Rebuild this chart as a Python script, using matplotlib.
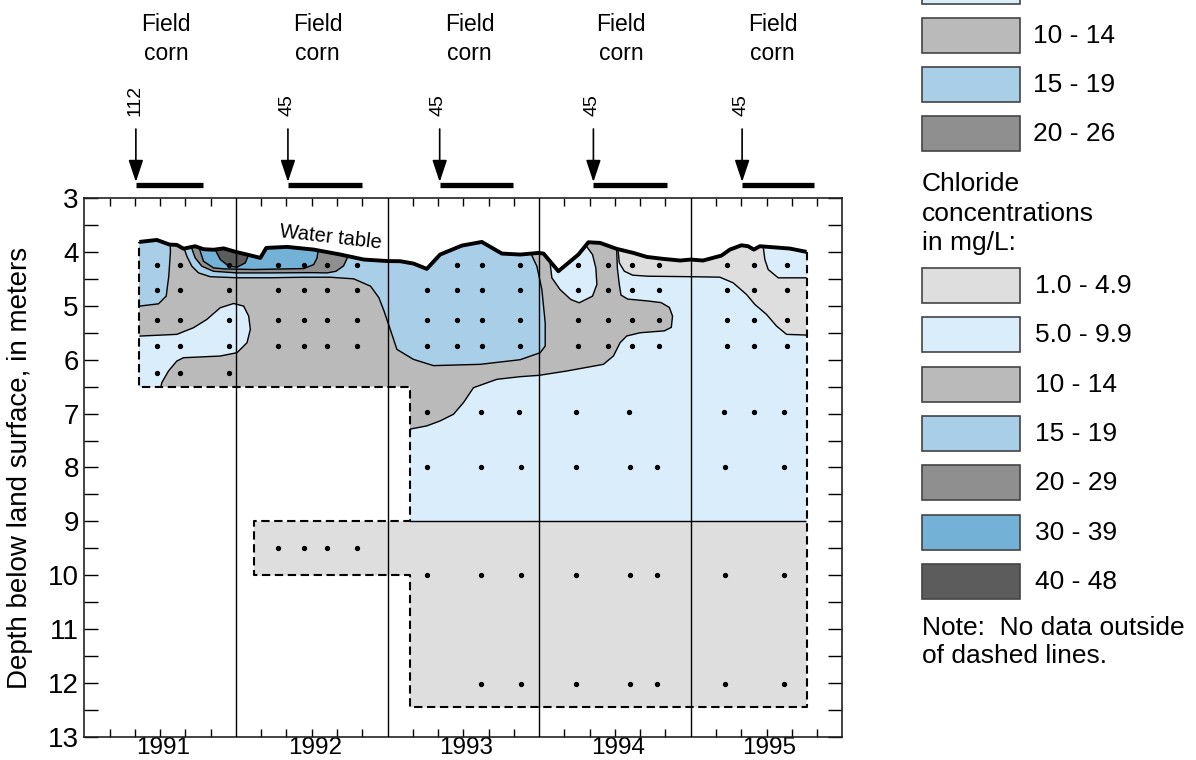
import matplotlib
matplotlib.use('Agg')
import matplotlib.pyplot as plt
import matplotlib.transforms as mtransforms
from matplotlib.patches import Polygon, Rectangle, ArrowStyle

# ---------------- data (x = fractional year, y = depth in m) ----------------
years = [1991, 1992, 1993, 1994, 1995]
crop_labels = ['Field', 'corn']
applications = [112, 45, 45, 45, 45]
appl_start = [1991.34, 1992.343, 1993.344, 1994.358, 1995.339]
appl_end = [1991.78, 1992.832, 1993.829, 1994.844, 1995.812]

water_table = [
    (1991.363, 3.815), (1991.478, 3.778), (1991.562, 3.864), (1991.610, 3.870),
    (1991.654, 3.940), (1991.731, 3.895), (1991.786, 3.950), (1991.852, 3.960),
    (1991.919, 3.935), (1992.007, 4.006), (1992.073, 4.049), (1992.161, 4.111),
    (1992.200, 3.926), (1992.337, 3.907), (1992.513, 3.957), (1992.689, 4.049),
    (1992.844, 4.142), (1993.000, 4.170), (1993.084, 4.173), (1993.171, 4.216),
    (1993.259, 4.315), (1993.347, 4.049), (1993.490, 3.883), (1993.622, 3.815),
    (1993.754, 4.031), (1993.875, 4.049), (1993.996, 4.019), (1994.029, 4.031),
    (1994.127, 4.358), (1994.259, 4.049), (1994.325, 3.821), (1994.402, 3.833),
    (1994.512, 3.944), (1994.622, 4.019), (1994.710, 4.093), (1994.820, 4.130),
    (1994.930, 4.160), (1995.000, 4.142), (1995.081, 4.160), (1995.203, 4.068),
    (1995.258, 3.957), (1995.335, 3.877), (1995.379, 3.895), (1995.416, 3.957),
    (1995.456, 3.895), (1995.544, 3.914), (1995.654, 3.938), (1995.764, 4.000)]

# lower / side limits of sampled area (dashed)
data_limit = [(1995.764, 12.45), (1993.148, 12.45), (1993.148, 10.0),
              (1992.12, 10.0), (1992.12, 9.0), (1993.148, 9.0),
              (1993.148, 6.5), (1991.363, 6.5)]

# concentration zones (mg/L); parts outside the sampled area are clipped
zone_1_deep = [(1993.148, 9.0), (1995.9, 9.0), (1995.9, 13.5), (1991.5, 13.5),
               (1991.5, 8.0), (1993.0, 8.0)]
zone_10 = [(1991.2, 3.5), (1994.512, 3.5), (1994.510, 3.85), (1994.516, 4.30),
           (1994.529, 4.605), (1994.540, 4.80), (1994.584, 4.875), (1994.716, 4.91),
           (1994.804, 4.94), (1994.859, 5.03), (1994.880, 5.19), (1994.872, 5.40),
           (1994.826, 5.465), (1994.666, 5.50), (1994.578, 5.56), (1994.534, 5.685),
           (1994.490, 5.932), (1994.424, 6.086), (1994.182, 6.21), (1994.0, 6.29),
           (1993.875, 6.315), (1993.721, 6.364), (1993.567, 6.519), (1993.501, 6.796),
           (1993.435, 7.012), (1993.347, 7.136), (1993.259, 7.228), (1993.145, 7.29),
           (1993.05, 7.32), (1993.0, 7.0), (1991.2, 7.0)]
zone_15_left = [(1991.566, 3.5), (1991.566, 3.80), (1991.568, 4.0), (1991.557, 4.451),
                (1991.54, 4.821), (1991.489, 4.963), (1991.363, 5.006), (1991.25, 5.01),
                (1991.25, 3.5)]
zone_15 = [(1991.65, 3.5), (1991.652, 3.88), (1991.676, 4.080), (1991.709, 4.265),
           (1991.753, 4.389), (1991.830, 4.46), (1992.007, 4.48), (1992.227, 4.48),
           (1992.447, 4.47), (1992.623, 4.47), (1992.777, 4.50), (1992.888, 4.636),
           (1992.943, 4.85), (1992.976, 5.09), (1993.018, 5.438), (1993.062, 5.809),
           (1993.171, 5.994), (1993.303, 6.11), (1993.611, 6.086), (1993.875, 6.0),
           (1994.007, 5.870), (1994.040, 5.747), (1994.040, 5.315), (1994.018, 4.698),
           (1993.985, 4.265), (1993.952, 4.068), (1993.945, 3.9), (1993.945, 3.5)]
zone_20 = [(1991.70, 3.5), (1991.698, 3.85), (1991.731, 4.111), (1991.775, 4.265),
           (1991.852, 4.36), (1992.007, 4.39), (1992.227, 4.39), (1992.491, 4.385),
           (1992.60, 4.39), (1992.66, 4.36), (1992.71, 4.26), (1992.735, 4.11),
           (1992.745, 3.95), (1992.745, 3.5)]
zone_30 = [(1991.75, 3.5), (1991.752, 3.88), (1991.786, 4.173), (1991.852, 4.296),
           (1991.919, 4.315), (1992.117, 4.327), (1992.447, 4.309), (1992.513, 4.235),
           (1992.535, 4.111), (1992.546, 3.9), (1992.548, 3.5)]
zone_40 = [(1991.85, 3.5), (1991.852, 3.9), (1991.897, 4.142), (1991.952, 4.265),
           (1992.007, 4.284), (1992.062, 4.204), (1992.084, 4.049), (1992.09, 3.9),
           (1992.09, 3.5)]
zone_5_1991 = [(1991.25, 5.565), (1991.363, 5.562), (1991.61, 5.53), (1991.72, 5.407),
               (1991.808, 5.253), (1991.896, 5.037), (1991.985, 4.957), (1992.051, 5.006),
               (1992.084, 5.19), (1992.095, 5.438), (1992.073, 5.685), (1992.007, 5.87),
               (1991.896, 5.932), (1991.654, 5.963), (1991.61, 6.025), (1991.555, 6.21),
               (1991.511, 6.426), (1991.49, 6.7), (1991.25, 6.7)]
zone_5_1994 = [(1994.06, 3.6), (1994.068, 4.10), (1994.084, 4.481), (1994.138, 4.698),
               (1994.209, 4.883), (1994.264, 4.944), (1994.352, 4.821), (1994.381, 4.605),
               (1994.374, 4.296), (1994.352, 4.049), (1994.308, 3.88), (1994.30, 3.6)]
zone_1_top = [(1994.515, 3.6), (1994.518, 3.90), (1994.529, 4.204), (1994.562, 4.358),
              (1994.617, 4.432), (1994.716, 4.451), (1995.0, 4.46), (1995.192, 4.469),
              (1995.280, 4.574), (1995.368, 4.79), (1995.423, 4.975), (1995.5, 5.16),
              (1995.566, 5.376), (1995.632, 5.53), (1995.764, 5.543), (1995.9, 5.543),
              (1995.9, 3.6)]
zone_5_1995 = [(1995.478, 3.6), (1995.478, 3.90), (1995.489, 4.142), (1995.511, 4.327),
               (1995.577, 4.481), (1995.764, 4.481), (1995.9, 4.481), (1995.9, 3.6)]

# sampling points
shallow_rows = [4.24, 4.71, 5.265, 5.74]
cols_1991 = [1991.48, 1991.63, 1991.955]
cols_1992 = [1992.278, 1992.452, 1992.601, 1992.80]
cols_1993 = [1993.263, 1993.455, 1993.625, 1993.875]
cols_1994 = [1994.259, 1994.453, 1994.615, 1994.793]
cols_1995 = [1995.24, 1995.416, 1995.632]
row_1991_deep = 6.25
row_1992_deep = 9.5
cols_7m = [1993.259, 1993.618, 1993.868, 1994.244, 1994.596, 1995.222, 1995.416, 1995.617]
cols_8_10m = [1993.26, 1993.615, 1993.88, 1994.245, 1994.599, 1994.78, 1995.226, 1995.617]
cols_12m = [1993.615, 1993.88, 1994.245, 1994.599, 1994.78, 1995.226, 1995.617]

# legend
c1, c5, c10, c15 = '#DEDEDE', '#DAEDFB', '#BABABA', '#A9CFE8'
c20, c30, c40 = '#8F8F8F', '#73B1D6', '#5C5C5C'
legend_top_labels = ['5.0 - 9.9', '10 - 14', '15 - 19', '20 - 26']
legend_top_colors = [c5, c10, c15, c20]
chloride_labels = ['1.0 - 4.9', '5.0 - 9.9', '10 - 14', '15 - 19', '20 - 29', '30 - 39', '40 - 48']
chloride_colors = [c1, c5, c10, c15, c20, c30, c40]

plt.rcParams['font.family'] = ['Liberation Sans', 'DejaVu Sans']

W, H = 1196, 760
fig = plt.figure(figsize=(W / 100, H / 100), dpi=100)
ax = fig.add_axes([84.33 / W, 23 / H, 758 / W, 539 / H])
ax.set_xlim(1991, 1996)
ax.set_ylim(13, 3)

region = Polygon(water_table + data_limit, closed=True, facecolor=c5,
                 edgecolor='none', zorder=1)
ax.add_patch(region)

zones = [(zone_1_deep, c1), (zone_10, c10), (zone_15_left, c15), (zone_15, c15),
         (zone_20, c20), (zone_30, c30), (zone_40, c40), (zone_5_1991, c5),
         (zone_5_1994, c5), (zone_1_top, c1), (zone_5_1995, c5)]
for pts, col in zones:
    p = Polygon(pts, closed=True, facecolor=col, edgecolor='black', lw=1.0, zorder=2)
    ax.add_patch(p)
    p.set_clip_path(region)

for y in years[1:]:
    ax.axvline(y, color='black', lw=1.0, zorder=3)

wx, wy = zip(*water_table)
ax.plot(wx, wy, color='black', lw=2.8, zorder=5, solid_capstyle='butt')
ox, oy = zip(*([water_table[-1]] + data_limit + [water_table[0]]))
ax.plot(ox, oy, color='black', lw=1.5, ls=(0, (4, 2.2)), zorder=5)

dots = []
for cols in [cols_1991, cols_1992, cols_1993, cols_1994, cols_1995]:
    for d in shallow_rows:
        for x in cols:
            if not (d == shallow_rows[0] and x == cols_1993[0]):
                dots.append((x, d))
dots += [(x, row_1991_deep) for x in cols_1991]
dots += [(x, row_1992_deep) for x in cols_1992]
dots += [(x, 6.97) for x in cols_7m]
dots += [(x, 8.0) for x in cols_8_10m] + [(x, 10.0) for x in cols_8_10m]
dots += [(x, 12.02) for x in cols_12m]
dx, dy = zip(*dots)
ax.plot(dx, dy, 'o', color='black', ms=2.8, zorder=6, ls='none')

ax.text(1992.623, 3.73, 'Water table', rotation=-6.5, ha='center', va='center',
        fontsize=14.5, zorder=7)

# axes styling
xt = [1991 + k / 6 for k in range(1, 30) if k % 6 != 0]
xl = [str(1991 + k // 6) if k % 6 == 3 else '' for k in range(1, 30) if k % 6 != 0]
ax.set_xticks(xt)
ax.set_xticklabels(xl)
ax.set_yticks(range(3, 14))
ax.set_yticks([d + 0.5 for d in range(3, 13)], minor=True)
ax.tick_params(axis='x', direction='in', length=6, width=1, top=True, labelsize=17.5, pad=0)
ax.tick_params(axis='y', which='both', direction='in', length=10, width=1,
               right=True, labelsize=20, pad=4)
shift = mtransforms.ScaledTranslation(3 / 100, 0, fig.dpi_scale_trans)
for lab in ax.get_xticklabels():
    lab.set_transform(lab.get_transform() + shift)
for s in ax.spines.values():
    s.set_linewidth(1.2)
    s.set_color('#222222')
ax.set_ylabel('Depth below land surface, in meters', fontsize=20)
ax.yaxis.set_label_coords((33 - 84.33) / 758, 0.5)

# annotations above the plot
blend = mtransforms.blended_transform_factory(ax.transData, fig.transFigure)
for yr in years:
    ax.text(yr + 0.54, 1 - 31 / H, crop_labels[0], transform=blend, ha='center',
            va='baseline', fontsize=16.5)
    ax.text(yr + 0.54, 1 - 60 / H, crop_labels[1], transform=blend, ha='center',
            va='baseline', fontsize=16.5)
style = ArrowStyle('-|>', head_length=0.75, head_width=0.25)
for a, x0, x1 in zip(applications, appl_start, appl_end):
    ax.annotate('', xy=(x0, 1 - 182 / H), xytext=(x0, 1 - 129 / H), xycoords=blend,
                arrowprops=dict(arrowstyle=style, color='black', lw=1.2,
                                mutation_scale=18, shrinkA=0, shrinkB=0))
    ax.plot([x0, x1], [1 - 184.5 / H] * 2, transform=blend, color='black', lw=3.8,
            solid_capstyle='butt', clip_on=False)
    ax.text(x0 - 0.008, 1 - 116 / H, str(a), transform=blend, rotation=90,
            ha='center', va='bottom', fontsize=14)

# legend (figure pixels)
lax = fig.add_axes([0, 0, 1, 1])
lax.set_xlim(0, W)
lax.set_ylim(H, 0)
lax.axis('off')
for i, (lab, col) in enumerate(zip(legend_top_labels, legend_top_colors)):
    y0 = -31 + i * 48.9
    lax.add_patch(Rectangle((922, y0), 98, 35, facecolor=col, edgecolor='#444444', lw=1.2))
    if y0 > 0:  # first entry lies above the picture edge
        lax.text(1033, y0 + 18, lab, fontsize=19, va='center', ha='left')
lax.text(922, 191, 'Chloride', fontsize=19, va='baseline')
lax.text(922, 221, 'concentrations', fontsize=19, va='baseline')
lax.text(922, 250, 'in mg/L:', fontsize=19, va='baseline')
for i, (lab, col) in enumerate(zip(chloride_labels, chloride_colors)):
    y0 = 268 + i * 49.3
    lax.add_patch(Rectangle((922, y0), 98, 35, facecolor=col, edgecolor='#444444', lw=1.2))
    lax.text(1035, y0 + 18, lab, fontsize=19, va='center', ha='left')
lax.text(922, 635, 'Note:  No data outside', fontsize=19, va='baseline')
lax.text(922, 663, 'of dashed lines.', fontsize=19, va='baseline')

fig.savefig('out.png', dpi=100)
